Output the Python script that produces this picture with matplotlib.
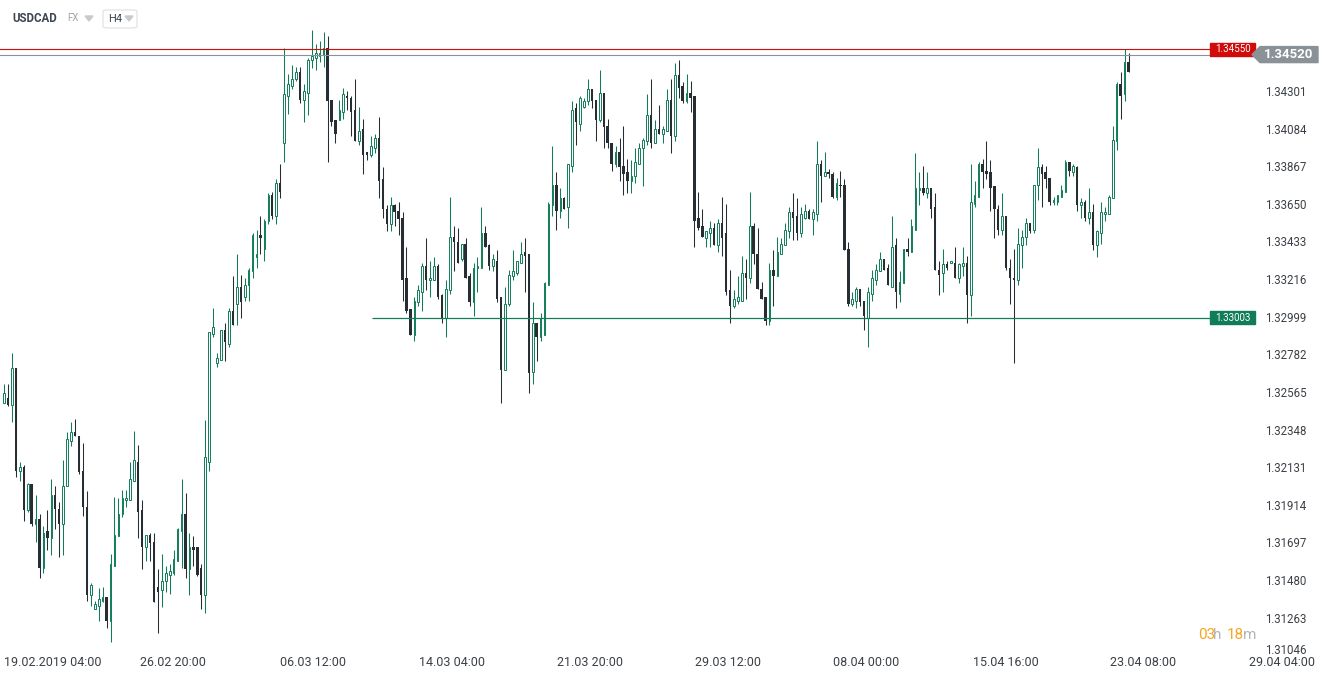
import matplotlib
matplotlib.use("Agg")
import matplotlib.pyplot as plt
import numpy as np
from matplotlib.patches import Rectangle, Polygon, FancyBboxPatch
from matplotlib.transforms import blended_transform_factory

plt.rcParams["font.family"] = ["Roboto", "DejaVu Sans"]

# USDCAD, H4 candles (19.02.2019 -> 23.04.2019)
OPEN = [
    1.3251, 1.3254, 1.3250, 1.3271, 1.3212, 1.3214, 1.3189, 1.3204, 1.3181, 1.3184,
    1.3156, 1.3177, 1.3173, 1.3198, 1.3190, 1.3181, 1.3203, 1.3229, 1.3234, 1.3232,
    1.3212, 1.3191, 1.3140, 1.3132, 1.3134, 1.3137, 1.3139, 1.3125, 1.3157, 1.3174,
    1.3187, 1.3195, 1.3195, 1.3206, 1.3217, 1.3189, 1.3168, 1.3175, 1.3171, 1.3145,
    1.3143, 1.3148, 1.3152, 1.3153, 1.3160, 1.3177, 1.3187, 1.3155, 1.3168, 1.3168,
    1.3156, 1.3140, 1.3217, 1.3291, 1.3274, 1.3276, 1.3293, 1.3285, 1.3304, 1.3308,
    1.3318, 1.3312, 1.3319, 1.3327, 1.3335, 1.3348, 1.3340, 1.3356, 1.3371, 1.3359,
    1.3378, 1.3401, 1.3428, 1.3434, 1.3438, 1.3442, 1.3426, 1.3430, 1.3449, 1.3450,
    1.3451, 1.3452, 1.3456, 1.3426, 1.3414, 1.3414, 1.3419, 1.3428, 1.3427, 1.3420,
    1.3402, 1.3409, 1.3396, 1.3394, 1.3398, 1.3404, 1.3380, 1.3363, 1.3354, 1.3365,
    1.3362, 1.3358, 1.3323, 1.3305, 1.3290, 1.3309, 1.3315, 1.3330, 1.3322, 1.3322,
    1.3330, 1.3313, 1.3300, 1.3316, 1.3347, 1.3344, 1.3334, 1.3343, 1.3324, 1.3309,
    1.3329, 1.3329, 1.3349, 1.3342, 1.3330, 1.3333, 1.3312, 1.3270, 1.3308, 1.3324,
    1.3326, 1.3332, 1.3338, 1.3337, 1.3269, 1.3297, 1.3289, 1.3290, 1.3319, 1.3365,
    1.3377, 1.3362, 1.3369, 1.3364, 1.3388, 1.3421, 1.3412, 1.3422, 1.3425, 1.3432,
    1.3426, 1.3414, 1.3430, 1.3411, 1.3401, 1.3389, 1.3396, 1.3388, 1.3384, 1.3379,
    1.3382, 1.3389, 1.3398, 1.3402, 1.3417, 1.3401, 1.3409, 1.3406, 1.3408, 1.3426,
    1.3405, 1.3440, 1.3434, 1.3425, 1.3430, 1.3428, 1.3358, 1.3353, 1.3346, 1.3349,
    1.3352, 1.3342, 1.3355, 1.3349, 1.3316, 1.3307, 1.3310, 1.3310, 1.3326, 1.3323,
    1.3353, 1.3337, 1.3317, 1.3312, 1.3298, 1.3328, 1.3324, 1.3337, 1.3342, 1.3350,
    1.3361, 1.3359, 1.3349, 1.3358, 1.3362, 1.3357, 1.3360, 1.3389, 1.3382, 1.3384,
    1.3383, 1.3370, 1.3377, 1.3377, 1.3340, 1.3308, 1.3310, 1.3317, 1.3310, 1.3300,
    1.3314, 1.3322, 1.3327, 1.3334, 1.3329, 1.3318, 1.3342, 1.3314, 1.3320, 1.3340,
    1.3338, 1.3351, 1.3374, 1.3375, 1.3372, 1.3375, 1.3364, 1.3328, 1.3326, 1.3331,
    1.3332, 1.3332, 1.3323, 1.3330, 1.3332, 1.3313, 1.3366, 1.3370, 1.3389, 1.3385,
    1.3384, 1.3376, 1.3363, 1.3351, 1.3359, 1.3329, 1.3323, 1.3322, 1.3342, 1.3347,
    1.3355, 1.3351, 1.3377, 1.3387, 1.3384, 1.3381, 1.3367, 1.3367, 1.3370, 1.3373,
    1.3390, 1.3384, 1.3387, 1.3365, 1.3367, 1.3358, 1.3361, 1.3342, 1.3349, 1.3360,
    1.3360, 1.3369, 1.3402, 1.3435, 1.3429, 1.3448,
]
HIGH = [
    1.3262, 1.3262, 1.3280, 1.3271, 1.3217, 1.3215, 1.3205, 1.3204, 1.3198, 1.3187,
    1.3180, 1.3189, 1.3207, 1.3203, 1.3194, 1.3218, 1.3234, 1.3240, 1.3242, 1.3232,
    1.3228, 1.3200, 1.3147, 1.3137, 1.3144, 1.3145, 1.3139, 1.3164, 1.3197, 1.3196,
    1.3201, 1.3201, 1.3217, 1.3235, 1.3227, 1.3195, 1.3175, 1.3176, 1.3176, 1.3155,
    1.3164, 1.3157, 1.3158, 1.3166, 1.3179, 1.3207, 1.3199, 1.3176, 1.3174, 1.3168,
    1.3158, 1.3241, 1.3292, 1.3306, 1.3280, 1.3293, 1.3297, 1.3306, 1.3324, 1.3337,
    1.3325, 1.3323, 1.3329, 1.3349, 1.3351, 1.3359, 1.3357, 1.3372, 1.3373, 1.3380,
    1.3389, 1.3456, 1.3441, 1.3446, 1.3445, 1.3445, 1.3435, 1.3450, 1.3466, 1.3458,
    1.3460, 1.3465, 1.3463, 1.3426, 1.3414, 1.3426, 1.3433, 1.3431, 1.3428, 1.3438,
    1.3422, 1.3415, 1.3396, 1.3405, 1.3406, 1.3416, 1.3387, 1.3365, 1.3370, 1.3366,
    1.3367, 1.3361, 1.3341, 1.3305, 1.3312, 1.3319, 1.3332, 1.3346, 1.3333, 1.3335,
    1.3331, 1.3314, 1.3322, 1.3370, 1.3353, 1.3352, 1.3343, 1.3346, 1.3326, 1.3332,
    1.3335, 1.3364, 1.3353, 1.3343, 1.3337, 1.3339, 1.3312, 1.3318, 1.3328, 1.3339,
    1.3333, 1.3344, 1.3346, 1.3337, 1.3309, 1.3297, 1.3303, 1.3321, 1.3367, 1.3399,
    1.3384, 1.3375, 1.3370, 1.3389, 1.3425, 1.3424, 1.3428, 1.3427, 1.3438, 1.3432,
    1.3426, 1.3443, 1.3430, 1.3415, 1.3401, 1.3399, 1.3404, 1.3411, 1.3392, 1.3391,
    1.3398, 1.3401, 1.3404, 1.3429, 1.3438, 1.3414, 1.3423, 1.3411, 1.3432, 1.3438,
    1.3447, 1.3449, 1.3436, 1.3441, 1.3437, 1.3428, 1.3373, 1.3363, 1.3350, 1.3356,
    1.3355, 1.3357, 1.3370, 1.3366, 1.3328, 1.3316, 1.3324, 1.3336, 1.3334, 1.3373,
    1.3355, 1.3352, 1.3321, 1.3312, 1.3332, 1.3339, 1.3347, 1.3346, 1.3355, 1.3364,
    1.3372, 1.3369, 1.3364, 1.3366, 1.3363, 1.3363, 1.3402, 1.3391, 1.3396, 1.3386,
    1.3384, 1.3381, 1.3385, 1.3380, 1.3344, 1.3315, 1.3318, 1.3317, 1.3310, 1.3318,
    1.3328, 1.3331, 1.3338, 1.3334, 1.3331, 1.3359, 1.3346, 1.3327, 1.3340, 1.3346,
    1.3357, 1.3395, 1.3384, 1.3388, 1.3384, 1.3375, 1.3372, 1.3333, 1.3340, 1.3333,
    1.3333, 1.3341, 1.3332, 1.3341, 1.3336, 1.3389, 1.3379, 1.3390, 1.3392, 1.3402,
    1.3391, 1.3376, 1.3365, 1.3372, 1.3359, 1.3334, 1.3340, 1.3352, 1.3351, 1.3358,
    1.3355, 1.3377, 1.3398, 1.3389, 1.3388, 1.3381, 1.3370, 1.3371, 1.3377, 1.3391,
    1.3390, 1.3389, 1.3388, 1.3369, 1.3368, 1.3375, 1.3366, 1.3351, 1.3367, 1.3364,
    1.3371, 1.3411, 1.3436, 1.3442, 1.3455, 1.3453,
]
LOW = [
    1.3251, 1.3249, 1.3240, 1.3208, 1.3206, 1.3183, 1.3188, 1.3180, 1.3171, 1.3150,
    1.3153, 1.3166, 1.3163, 1.3178, 1.3162, 1.3163, 1.3203, 1.3226, 1.3232, 1.3210,
    1.3186, 1.3137, 1.3134, 1.3132, 1.3125, 1.3136, 1.3121, 1.3113, 1.3157, 1.3174,
    1.3185, 1.3191, 1.3195, 1.3206, 1.3173, 1.3155, 1.3160, 1.3160, 1.3136, 1.3118,
    1.3133, 1.3142, 1.3141, 1.3152, 1.3160, 1.3156, 1.3150, 1.3140, 1.3157, 1.3151,
    1.3132, 1.3130, 1.3212, 1.3289, 1.3272, 1.3276, 1.3275, 1.3283, 1.3296, 1.3296,
    1.3300, 1.3310, 1.3310, 1.3323, 1.3329, 1.3337, 1.3333, 1.3354, 1.3357, 1.3354,
    1.3369, 1.3390, 1.3418, 1.3432, 1.3437, 1.3424, 1.3413, 1.3417, 1.3444, 1.3443,
    1.3448, 1.3445, 1.3390, 1.3411, 1.3401, 1.3414, 1.3415, 1.3420, 1.3405, 1.3402,
    1.3400, 1.3383, 1.3391, 1.3393, 1.3395, 1.3369, 1.3358, 1.3350, 1.3350, 1.3353,
    1.3348, 1.3310, 1.3303, 1.3290, 1.3287, 1.3307, 1.3304, 1.3316, 1.3312, 1.3322,
    1.3311, 1.3297, 1.3289, 1.3314, 1.3327, 1.3332, 1.3333, 1.3323, 1.3307, 1.3301,
    1.3315, 1.3329, 1.3341, 1.3328, 1.3327, 1.3309, 1.3251, 1.3270, 1.3307, 1.3322,
    1.3325, 1.3332, 1.3315, 1.3257, 1.3262, 1.3275, 1.3287, 1.3290, 1.3319, 1.3359,
    1.3351, 1.3358, 1.3363, 1.3352, 1.3384, 1.3400, 1.3408, 1.3421, 1.3423, 1.3421,
    1.3402, 1.3413, 1.3398, 1.3398, 1.3385, 1.3387, 1.3379, 1.3371, 1.3372, 1.3372,
    1.3378, 1.3389, 1.3376, 1.3400, 1.3398, 1.3401, 1.3406, 1.3401, 1.3408, 1.3395,
    1.3402, 1.3427, 1.3424, 1.3424, 1.3419, 1.3341, 1.3351, 1.3347, 1.3341, 1.3341,
    1.3342, 1.3338, 1.3336, 1.3313, 1.3297, 1.3306, 1.3308, 1.3310, 1.3311, 1.3320,
    1.3331, 1.3317, 1.3311, 1.3296, 1.3296, 1.3307, 1.3324, 1.3337, 1.3342, 1.3346,
    1.3345, 1.3345, 1.3347, 1.3357, 1.3357, 1.3348, 1.3356, 1.3367, 1.3382, 1.3381,
    1.3369, 1.3368, 1.3370, 1.3339, 1.3307, 1.3307, 1.3306, 1.3307, 1.3293, 1.3283,
    1.3310, 1.3319, 1.3327, 1.3328, 1.3319, 1.3318, 1.3306, 1.3309, 1.3320, 1.3336,
    1.3338, 1.3351, 1.3365, 1.3371, 1.3369, 1.3358, 1.3328, 1.3313, 1.3315, 1.3328,
    1.3332, 1.3323, 1.3320, 1.3324, 1.3297, 1.3301, 1.3364, 1.3370, 1.3375, 1.3380,
    1.3362, 1.3346, 1.3348, 1.3348, 1.3328, 1.3308, 1.3274, 1.3319, 1.3329, 1.3342,
    1.3349, 1.3349, 1.3368, 1.3364, 1.3375, 1.3365, 1.3365, 1.3365, 1.3370, 1.3373,
    1.3382, 1.3382, 1.3362, 1.3358, 1.3356, 1.3354, 1.3339, 1.3335, 1.3343, 1.3356,
    1.3360, 1.3369, 1.3397, 1.3415, 1.3425, 1.3442,
]
CLOSE = [
    1.3257, 1.3250, 1.3271, 1.3212, 1.3214, 1.3189, 1.3204, 1.3181, 1.3184, 1.3156,
    1.3176, 1.3173, 1.3198, 1.3190, 1.3181, 1.3203, 1.3230, 1.3234, 1.3232, 1.3211,
    1.3191, 1.3140, 1.3146, 1.3135, 1.3138, 1.3139, 1.3125, 1.3158, 1.3175, 1.3187,
    1.3196, 1.3196, 1.3207, 1.3218, 1.3188, 1.3168, 1.3175, 1.3170, 1.3136, 1.3142,
    1.3148, 1.3153, 1.3154, 1.3161, 1.3178, 1.3187, 1.3155, 1.3168, 1.3166, 1.3152,
    1.3140, 1.3220, 1.3292, 1.3295, 1.3277, 1.3293, 1.3286, 1.3304, 1.3296, 1.3318,
    1.3309, 1.3319, 1.3328, 1.3348, 1.3337, 1.3346, 1.3356, 1.3371, 1.3359, 1.3378,
    1.3373, 1.3429, 1.3435, 1.3438, 1.3442, 1.3426, 1.3431, 1.3449, 1.3451, 1.3453,
    1.3453, 1.3456, 1.3425, 1.3413, 1.3406, 1.3420, 1.3429, 1.3427, 1.3419, 1.3402,
    1.3408, 1.3394, 1.3394, 1.3399, 1.3404, 1.3379, 1.3363, 1.3354, 1.3365, 1.3361,
    1.3357, 1.3322, 1.3304, 1.3290, 1.3310, 1.3316, 1.3330, 1.3322, 1.3323, 1.3330,
    1.3312, 1.3300, 1.3317, 1.3347, 1.3344, 1.3332, 1.3343, 1.3323, 1.3309, 1.3329,
    1.3330, 1.3349, 1.3341, 1.3330, 1.3334, 1.3311, 1.3270, 1.3308, 1.3325, 1.3327,
    1.3333, 1.3337, 1.3336, 1.3268, 1.3297, 1.3289, 1.3300, 1.3320, 1.3366, 1.3377,
    1.3362, 1.3369, 1.3363, 1.3389, 1.3420, 1.3413, 1.3427, 1.3425, 1.3432, 1.3425,
    1.3414, 1.3430, 1.3410, 1.3401, 1.3389, 1.3396, 1.3387, 1.3383, 1.3379, 1.3382,
    1.3390, 1.3398, 1.3403, 1.3417, 1.3401, 1.3409, 1.3406, 1.3409, 1.3426, 1.3405,
    1.3440, 1.3433, 1.3425, 1.3430, 1.3427, 1.3356, 1.3352, 1.3347, 1.3350, 1.3352,
    1.3342, 1.3355, 1.3346, 1.3315, 1.3307, 1.3311, 1.3312, 1.3326, 1.3323, 1.3353,
    1.3337, 1.3317, 1.3311, 1.3298, 1.3328, 1.3324, 1.3338, 1.3343, 1.3351, 1.3361,
    1.3358, 1.3349, 1.3360, 1.3362, 1.3357, 1.3361, 1.3389, 1.3382, 1.3384, 1.3383,
    1.3370, 1.3378, 1.3376, 1.3339, 1.3308, 1.3311, 1.3317, 1.3309, 1.3301, 1.3315,
    1.3323, 1.3328, 1.3334, 1.3328, 1.3319, 1.3341, 1.3315, 1.3321, 1.3340, 1.3338,
    1.3353, 1.3375, 1.3375, 1.3372, 1.3375, 1.3363, 1.3328, 1.3325, 1.3331, 1.3329,
    1.3333, 1.3323, 1.3331, 1.3332, 1.3313, 1.3367, 1.3371, 1.3389, 1.3384, 1.3383,
    1.3375, 1.3363, 1.3351, 1.3359, 1.3329, 1.3323, 1.3322, 1.3343, 1.3347, 1.3355,
    1.3350, 1.3377, 1.3387, 1.3383, 1.3380, 1.3367, 1.3368, 1.3371, 1.3374, 1.3390,
    1.3385, 1.3388, 1.3365, 1.3367, 1.3358, 1.3361, 1.3342, 1.3350, 1.3361, 1.3361,
    1.3370, 1.3403, 1.3435, 1.3428, 1.3448, 1.3442,
]

TIME_LABELS = ["19.02.2019 04:00", "26.02 20:00", "06.03 12:00", "14.03 04:00", "21.03 20:00",
               "29.03 12:00", "08.04 00:00", "15.04 16:00", "23.04 08:00", "29.04 04:00"]
TIME_POS = [0, 42.8, 78.3, 113.5, 148.5, 183.5, 218.4, 254.0, 288.6, 324.0]
PRICE_TICKS = [1.34301, 1.34084, 1.33867, 1.33650, 1.33433, 1.33216, 1.32999, 1.32782,
               1.32565, 1.32348, 1.32131, 1.31914, 1.31697, 1.31480, 1.31263, 1.31046]
RESIST = 1.34550
LAST = 1.34520
SUPPORT = 1.33003
SUPPORT_FROM = 93.3

GREEN, DARK, RED, GREY = "#117d57", "#262d33", "#d10a0a", "#8a9297"
TXT = "#3b4046"
W, H = 1325, 680


def fx(px):
    return px / W


def fy(py):
    return 1 - py / H


fig = plt.figure(figsize=(W / 100, H / 100), dpi=100)
ax = fig.add_axes([0, fy(652), 1, 652 / H])
ax.set_xlim(-1.014, 334.8)
ax.set_ylim(1.31073, 1.34835)
for s in ax.spines.values():
    s.set_visible(False)
ax.set_yticks([])
ax.tick_params(axis="x", length=0, pad=3, labelsize=9, labelcolor=TXT)
ax.set_xticks(TIME_POS, TIME_LABELS)
ax.get_xticklabels()[0].set_ha("left")

ppx = (ax.get_ylim()[1] - ax.get_ylim()[0]) / 652  # price per pixel
blend = blended_transform_factory(fig.transFigure, ax.transData)

# candles
o, hi, lo, c = map(np.array, (OPEN, HIGH, LOW, CLOSE))
x = np.arange(len(o))
up = c >= o
ax.vlines(x[up], lo[up], hi[up], color=GREEN, lw=0.75, zorder=2)
ax.vlines(x[~up], lo[~up], hi[~up], color=DARK, lw=0.75, zorder=2)
ax.bar(x[up], np.maximum(c - o, ppx)[up], bottom=o[up], width=0.42,
       facecolor="white", edgecolor=GREEN, linewidth=0.7, zorder=3)
ax.bar(x[~up], np.maximum(o - c, ppx)[~up], bottom=c[~up], width=0.6,
       color=DARK, linewidth=0, zorder=3)

# level lines
ax.plot([0, fx(1210)], [RESIST, RESIST], color=RED, lw=0.8, transform=blend, zorder=4)
ax.plot([0, fx(1258)], [LAST, LAST], color=GREY, lw=0.8, transform=blend, zorder=4)
x_end = ax.get_xlim()[0] + 1210 / W * (ax.get_xlim()[1] - ax.get_xlim()[0])
ax.hlines(SUPPORT, SUPPORT_FROM, x_end, color=GREEN, lw=0.9, zorder=4)

# price boxes
for price, col in [(RESIST, RED), (SUPPORT, GREEN)]:
    ax.add_patch(Rectangle((fx(1210), price - 6.5 * ppx), fx(1255) - fx(1210), 13 * ppx,
                           transform=blend, color=col, zorder=5, clip_on=False))
    ax.text(fx(1232.5), price, f"{price:.5f}", transform=blend, ha="center", va="center",
            color="white", fontsize=7, zorder=6)
hh = 8 * ppx
ax.add_patch(Polygon([(fx(1252), LAST), (fx(1260), LAST + hh), (fx(1318), LAST + hh),
                      (fx(1318), LAST - hh), (fx(1260), LAST - hh)], closed=True,
                     transform=blend, color=GREY, zorder=5, clip_on=False))
ax.text(fx(1289), LAST, f"{LAST:.5f}", transform=blend, ha="center", va="center",
        color="white", fontsize=9.5, fontweight="bold", zorder=6)

# price axis labels
ybot = ax.get_ylim()[0]
for p in PRICE_TICKS:
    ax.text(fx(1265), max(p, ybot + 2 * ppx), f"{p:.5f}", transform=blend, ha="left",
            va="center", color=TXT, fontsize=8.3, clip_on=False)

# header
fig.text(fx(12), fy(18), "USDCAD", fontsize=8.3, fontweight="bold", color="#3b4550", va="center")
fig.text(fx(67), fy(18), "FX", fontsize=7, color="#9ea4aa", va="center")
fig.patches.append(Polygon([(fx(85), fy(16)), (fx(93), fy(16)), (fx(89), fy(21))],
                           closed=True, transform=fig.transFigure, color="#c6cace"))
fig.patches.append(FancyBboxPatch((fx(103), fy(28)), fx(137) - fx(103), fy(10) - fy(28),
                                  boxstyle="round,pad=0,rounding_size=0.003",
                                  transform=fig.transFigure, facecolor="white",
                                  edgecolor="#dcdfe3", lw=0.8))
fig.text(fx(108), fy(19), "H4", fontsize=8, color="#3b4550", va="center")
fig.patches.append(Polygon([(fx(125), fy(16)), (fx(133), fy(16)), (fx(129), fy(21))],
                           closed=True, transform=fig.transFigure, color="#c6cace"))

# candle timer
for px, s, col in [(1198, "03", "#f5a623"), (1213.5, "h", "#b1b6bb"),
                   (1227, "18", "#f5a623"), (1242.5, "m", "#b1b6bb")]:
    fig.text(fx(px), fy(635), s, fontsize=11, color=col, va="center")

fig.savefig("out.png", dpi=100)
